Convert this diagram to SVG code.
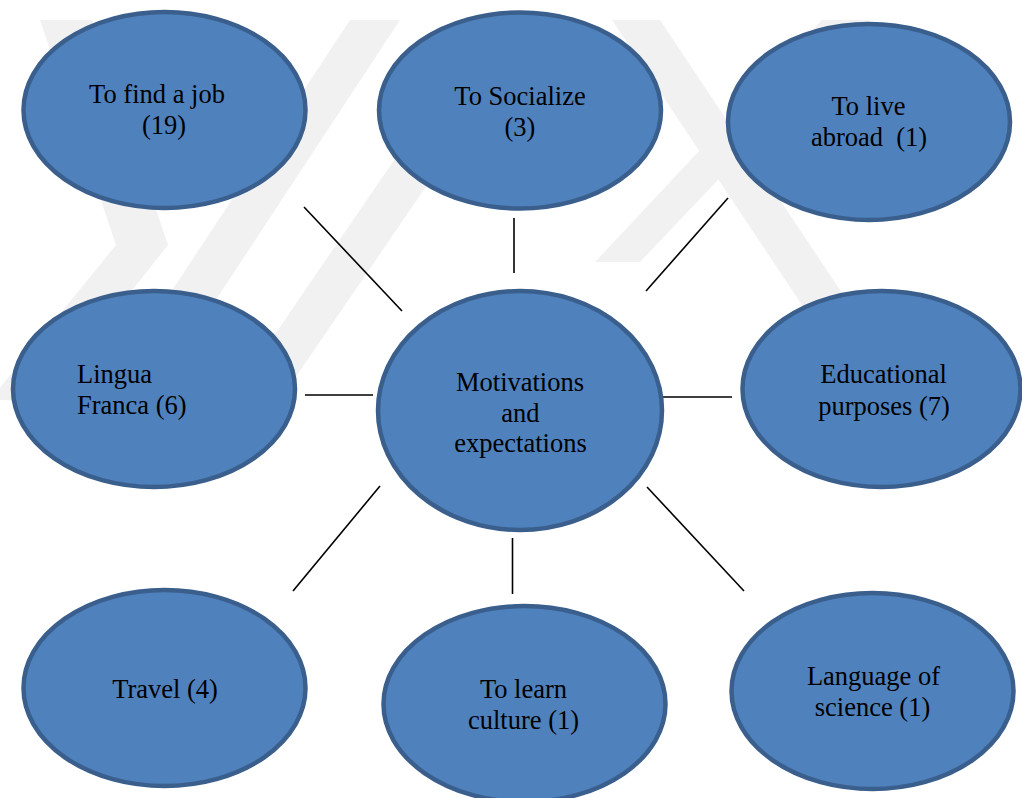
<svg xmlns="http://www.w3.org/2000/svg" width="1022" height="798" viewBox="0 0 1022 798">
  <style>
    .node { fill: #4F81BD; stroke: #3A5F8D; stroke-width: 4.5; }
    .label { font-family: "Liberation Serif", "Times New Roman", serif; font-size: 26.5px; fill: #000; text-anchor: middle; white-space: pre; }
    .left { text-anchor: start; }
    .link { stroke: #000; stroke-width: 1.6; fill: none; }
    .mark { fill: #F1F1F1; }
  </style>

  <rect width="1022" height="798" fill="#FFFFFF"/>

  <!-- faint background emblem -->
  <g id="watermark">
    <polygon class="mark" points="40,20 92,20 168,245 45,400 -10,400 116,245"/>
    <polygon class="mark" points="100,400 150,400 400,20 350,20"/>
    <polygon class="mark" points="230,400 280,400 540,20 490,20"/>
    <polygon class="mark" points="595,262 640,262 870,20 822,20"/>
    <polygon class="mark" points="612,20 660,20 900,380 852,380"/>
  </g>

  <!-- connectors from the hub -->
  <g id="connectors">
    <line class="link" x1="304" y1="207" x2="402" y2="311"/>
    <line class="link" x1="514" y1="218" x2="514" y2="273"/>
    <line class="link" x1="728" y1="198" x2="646" y2="291"/>
    <line class="link" x1="305" y1="395" x2="373" y2="395"/>
    <line class="link" x1="663" y1="397" x2="732" y2="397"/>
    <line class="link" x1="380" y1="486" x2="293" y2="591"/>
    <line class="link" x1="512.5" y1="538" x2="512.5" y2="594"/>
    <line class="link" x1="647" y1="487" x2="744" y2="591"/>
  </g>

  <g id="node-job">
    <ellipse class="node" cx="164.5" cy="110" rx="141" ry="98"/>
    <text class="label" x="157" y="103">To find a job</text>
    <text class="label" x="164" y="134">(19)</text>
  </g>

  <g id="node-socialize">
    <ellipse class="node" cx="520" cy="110.5" rx="141" ry="98"/>
    <text class="label" x="520" y="105">To Socialize</text>
    <text class="label" x="520" y="136">(3)</text>
  </g>

  <g id="node-abroad">
    <ellipse class="node" cx="869" cy="122" rx="141" ry="98"/>
    <text class="label" x="868.5" y="115">To live</text>
    <text class="label" x="869" y="146">abroad  (1)</text>
  </g>

  <g id="node-lingua">
    <ellipse class="node" cx="154" cy="389" rx="141" ry="98"/>
    <text class="label left" x="77" y="383">Lingua</text>
    <text class="label left" x="77" y="414">Franca (6)</text>
  </g>

  <g id="node-hub">
    <ellipse class="node" cx="520" cy="410.5" rx="142" ry="119.5"/>
    <text class="label" x="520" y="391">Motivations</text>
    <text class="label" x="520.5" y="422">and</text>
    <text class="label" x="520.5" y="452">expectations</text>
  </g>

  <g id="node-education">
    <ellipse class="node" cx="881.5" cy="389" rx="139" ry="98"/>
    <text class="label" x="883.5" y="383">Educational</text>
    <text class="label" x="884" y="415">purposes (7)</text>
  </g>

  <g id="node-travel">
    <ellipse class="node" cx="164.5" cy="688" rx="141" ry="98"/>
    <text class="label" x="165" y="698">Travel (4)</text>
  </g>

  <g id="node-culture">
    <ellipse class="node" cx="524.5" cy="704" rx="141" ry="98"/>
    <text class="label" x="523.5" y="698">To learn</text>
    <text class="label" x="523.5" y="729">culture (1)</text>
  </g>

  <g id="node-science">
    <ellipse class="node" cx="872.5" cy="691" rx="141" ry="98"/>
    <text class="label" x="873.5" y="685">Language of</text>
    <text class="label" x="872.5" y="716">science (1)</text>
  </g>
</svg>
